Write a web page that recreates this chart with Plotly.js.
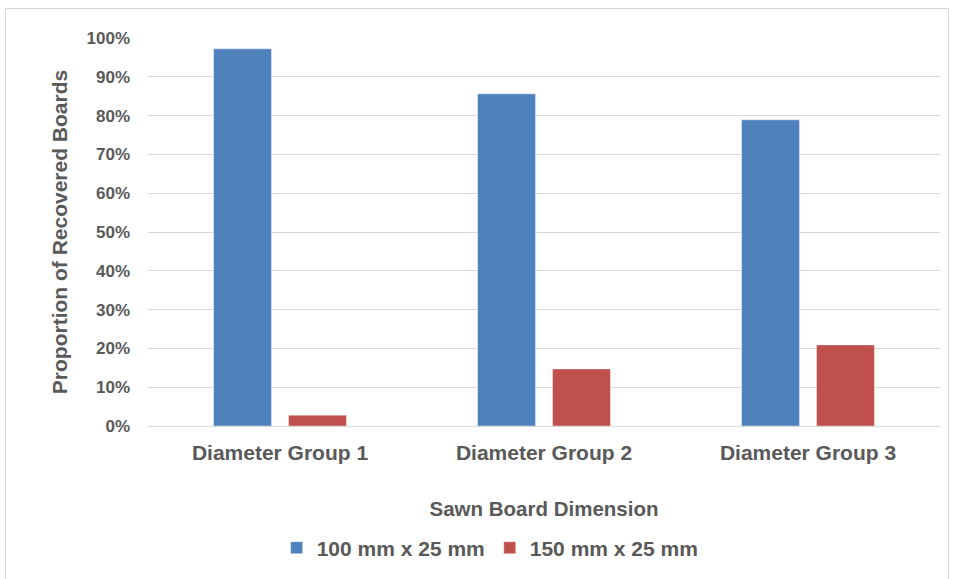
<!DOCTYPE html>
<html>
<head>
<meta charset="utf-8">
<script src="https://cdn.plot.ly/plotly-3.0.1.min.js"></script>
<style>
html,body{margin:0;padding:0;background:#fff;}
#frame{position:absolute;left:5px;top:8px;width:944px;height:575px;border:1px solid #d9d9d9;box-sizing:border-box;}
#chart{position:absolute;left:0;top:0;width:958px;height:579px;}
</style>
</head>
<body>
<div id="frame"></div>
<div id="chart"></div>
<script>
const categories = ["Diameter Group 1", "Diameter Group 2", "Diameter Group 3"];
const series1Name = "100 mm x 25 mm";
const series1Values = [0.972, 0.856, 0.789];
const series2Name = "150 mm x 25 mm";
const series2Values = [0.028, 0.147, 0.209];

const fam = "Liberation Sans, Arial, sans-serif";
const grey = "#595959";

const traces = [
  {type: "bar", name: series1Name, x: categories, y: series1Values,
   marker: {color: "#4f81bd", line: {color: "rgba(255,255,255,0.4)", width: 1}}},
  {type: "bar", name: series2Name, x: categories, y: series2Values,
   marker: {color: "#c0504d", line: {color: "rgba(255,255,255,0.4)", width: 1}}}
];

const layout = {
  width: 958, height: 579,
  paper_bgcolor: "rgba(0,0,0,0)", plot_bgcolor: "rgba(0,0,0,0)",
  margin: {l: 148, r: 18, t: 38, b: 152},
  barmode: "group", bargap: 0.432, bargroupgap: 0.227,
  font: {family: fam, color: grey, size: 14},
  showlegend: true,
  legend: {orientation: "h", x: 0.432, xanchor: "center", y: -0.311, yanchor: "middle",
           font: {family: fam, color: grey, size: 21, weight: "bold"}, itemwidth: 30,
           traceorder: "normal"},
  xaxis: {
    showgrid: false, zeroline: false, showline: false, ticks: "",
    tickfont: {family: fam, color: grey, size: 21, weight: "bold"},
    ticklabelstandoff: 12,
    title: {text: "Sawn Board Dimension", standoff: 38,
            font: {family: fam, color: grey, size: 20.5, weight: "bold"}},
    automargin: false
  },
  yaxis: {
    range: [0, 1], dtick: 0.1, tickformat: ".0%",
    showgrid: true, gridcolor: "#d9d9d9", gridwidth: 1,
    zeroline: true, zerolinecolor: "#d9d9d9", zerolinewidth: 1,
    showline: false, ticks: "",
    tickfont: {family: fam, color: grey, size: 17, weight: "bold"},
    ticklabelstandoff: 17,
    title: {text: "Proportion of Recovered Boards", standoff: 13,
            font: {family: fam, color: grey, size: 21, weight: "bold"}},
    automargin: false
  }
};

Plotly.newPlot("chart", traces, layout, {displayModeBar: false, staticPlot: true});
</script>
</body>
</html>
